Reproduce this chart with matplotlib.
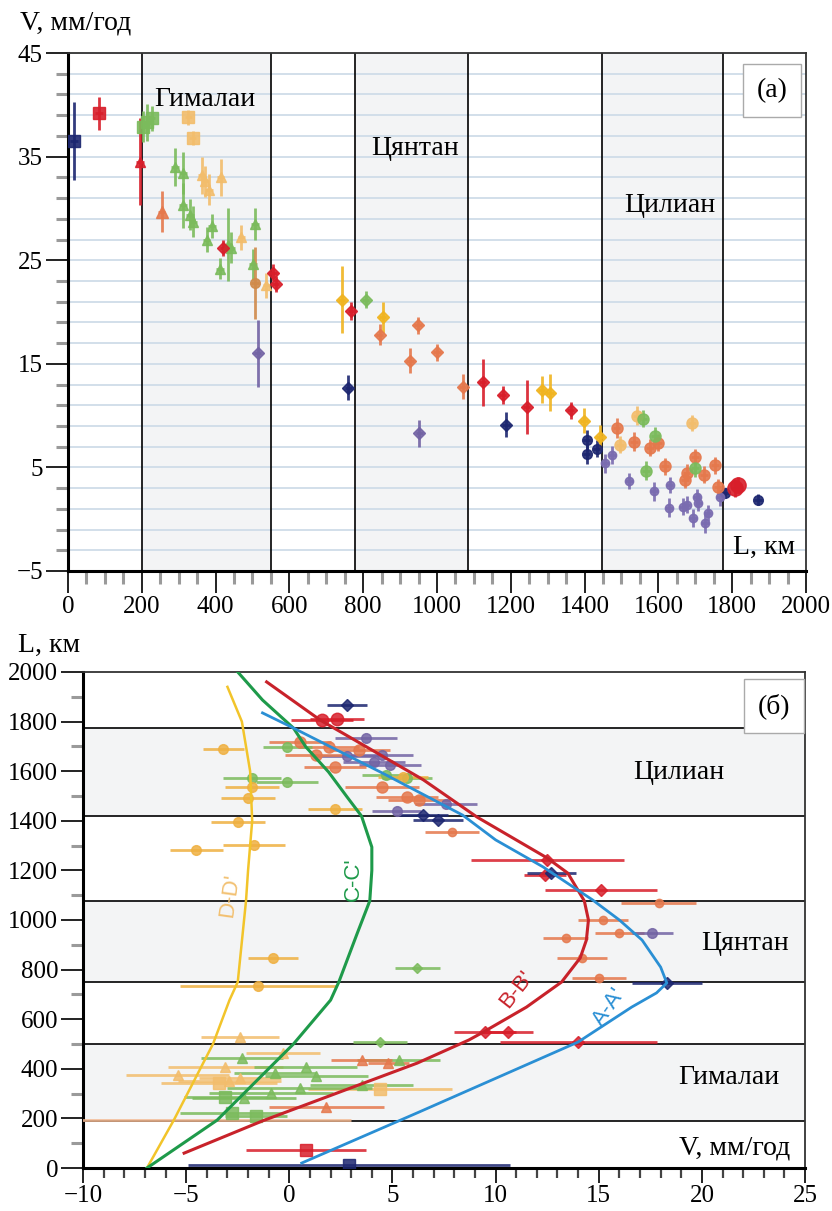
import numpy as np
import matplotlib
matplotlib.use('Agg')
from matplotlib import pyplot as plt
from matplotlib.ticker import FixedLocator, MultipleLocator

plt.rcParams['font.family'] = ['Liberation Serif', 'DejaVu Serif']

NAVY = '#1c2670'
RED = '#d81e2a'
GREEN = '#7bbb5c'
YELLOW = '#f0b420'
LORANGE = '#f2bd6c'
ORRED = '#e5784c'
PURPLE = '#7263a4'

# ---------------- panel (a): V (mm/yr) vs L (km) ----------------
a_navy_sq_L, a_navy_sq_V, a_navy_sq_e = [16], [36.5], [3.8]
a_red_sq_L, a_red_sq_V, a_red_sq_e = [84], [39.2], [1.6]
a_green_sq_L, a_green_sq_V, a_green_sq_e = [204, 215, 227], [37.9, 38.3, 38.7], [1.5, 1.8, 1.2]
a_lor_sq_L, a_lor_sq_V, a_lor_sq_e = [326, 338], [38.8, 36.8], [0.7, 0.7]
a_red_tri_L, a_red_tri_V, a_red_tri_e = [195], [34.5], [4.2]
a_orr_tri_L, a_orr_tri_V, a_orr_tri_e = [254], [29.7], [2.0]
a_green_tri_L = [290, 312, 312, 331, 339, 376, 390, 412, 434, 443, 507, 501]
a_green_tri_V = [34.0, 33.4, 30.3, 29.4, 28.7, 27.0, 28.3, 24.2, 26.5, 26.2, 28.5, 24.6]
a_green_tri_e = [1.8, 2.0, 2.2, 1.5, 1.5, 1.2, 1.2, 1.0, 3.5, 1.5, 1.5, 1.5]
a_lor_tri_L = [362, 371, 382, 414, 470, 538]
a_lor_tri_V = [33.2, 32.6, 31.8, 33.0, 27.2, 22.6]
a_lor_tri_e = [1.8, 1.5, 1.5, 1.8, 1.2, 1.2]
a_brown_L, a_brown_V, a_brown_e = [507], [22.8], [3.5]
a_red_dia_L = [421, 556, 563, 768, 1124, 1178, 1243, 1362]
a_red_dia_V = [26.2, 23.8, 22.7, 20.1, 13.2, 12.0, 10.8, 10.5]
a_red_dia_e = [0.8, 0.8, 0.8, 0.9, 2.3, 0.9, 2.6, 0.8]
a_pur_dia_L, a_pur_dia_V, a_pur_dia_e = [514, 952], [16.0, 8.3], [3.2, 1.3]
a_yel_dia_L = [742, 853, 1284, 1306, 1398, 1442]
a_yel_dia_V = [21.2, 19.5, 12.5, 12.2, 9.5, 7.9]
a_yel_dia_e = [3.2, 1.5, 1.3, 1.8, 1.2, 1.2]
a_green_dia_L, a_green_dia_V, a_green_dia_e = [807], [21.2], [0.8]
a_navy_dia_L, a_navy_dia_V, a_navy_dia_e = [760, 1187], [12.7, 9.1], [1.2, 1.2]
a_orr_dia_L = [845, 927, 949, 1000, 1070]
a_orr_dia_V = [17.8, 15.3, 18.7, 16.1, 12.8]
a_orr_dia_e = [1.0, 1.2, 0.8, 0.8, 1.2]
a_navy_ci_L = [1406, 1406, 1433, 1781, 1870]
a_navy_ci_V = [7.6, 6.3, 6.8, 2.5, 1.9]
a_navy_ci_e = [1.0, 1.0, 0.8, 0.5, 0.5]
a_pur_ci_L = [1455, 1474, 1520, 1588, 1629, 1631, 1667, 1677, 1694, 1704, 1708, 1726, 1734, 1767]
a_pur_ci_V = [5.4, 6.2, 3.7, 2.7, 1.1, 3.3, 1.2, 1.4, 0.1, 2.1, 1.6, -0.4, 0.6, 2.1]
a_pur_ci_e = [0.9, 0.9, 0.8, 0.9, 0.9, 0.8, 0.8, 0.8, 0.9, 0.8, 0.8, 0.9, 0.8, 0.8]
a_orr_ci_L = [1487, 1534, 1577, 1599, 1618, 1672, 1677, 1699, 1724, 1753, 1762]
a_orr_ci_V = [8.8, 7.5, 6.9, 7.4, 5.1, 3.8, 4.5, 6.0, 4.3, 5.2, 3.1]
a_orr_ci_e = [1.0, 0.9, 0.8, 0.8, 0.8, 0.8, 0.8, 0.8, 0.8, 0.8, 0.8]
a_lor_ci_L, a_lor_ci_V, a_lor_ci_e = [1496, 1541, 1691], [7.2, 10.0, 9.3], [0.8, 0.9, 0.8]
a_green_ci_L, a_green_ci_V, a_green_ci_e = [1558, 1566, 1591, 1699], [9.7, 4.7, 8.0, 4.9], [0.8, 0.9, 0.9, 0.8]
a_red_big_L, a_red_big_V, a_red_big_e = [1808, 1816], [3.0, 3.3], [0.9, 0.8]

a_bounds = [200, 549, 778, 1084, 1446, 1776]

# ---------------- panel (б): L (km) vs V (mm/yr) ----------------
b_navy_sq_V, b_navy_sq_L, b_navy_sq_e = [2.9], [12], [7.8]
b_red_sq_V, b_red_sq_L, b_red_sq_e = [0.8], [73], [2.9]
b_lor_tri_V = [-2.4, -0.3, -3.1, -5.4, -2.4, -2.9]
b_lor_tri_L = [528, 463, 408, 375, 363, 350]
b_lor_tri_e = [1.9, 1.8, 2.8, 2.5, 2.0, 2.5]
b_lor_big_V, b_lor_big_L, b_lor_big_e = [-3.4, 4.4], [342, 318], [2.8, 3.5]
b_green_tri_V = [-2.3, 0.8, 1.3, -0.7, 5.3, 0.5, 3.5, -0.9, -2.2]
b_green_tri_L = [443, 408, 371, 383, 435, 322, 335, 302, 282]
b_green_tri_e = [2.0, 2.5, 2.5, 2.0, 2.0, 3.5, 2.5, 3.0, 2.5]
b_green_sq_V, b_green_sq_L, b_green_sq_e = [-3.1, -2.8, -1.6], [286, 222, 210], [2.0, 2.5, 1.5]
b_green_dia_V, b_green_dia_L, b_green_dia_e = [4.4, 6.2], [508, 806], [1.3, 1.1]
b_orr_tri_V, b_orr_tri_L, b_orr_tri_e = [1.8, 3.5, 4.8], [246, 435, 425], [2.8, 1.5, 1.0]
b_red_dia_V = [9.5, 10.6, 14.0, 12.5, 15.1, 12.4]
b_red_dia_L = [548, 548, 508, 1242, 1121, 1181]
b_red_dia_e = [1.5, 1.2, 3.8, 3.7, 2.7, 1.0]
b_navy_V = [12.7, 18.3, 2.8, 6.5, 7.2]
b_navy_L = [1189, 746, 1867, 1423, 1403]
b_navy_e = [1.2, 1.7, 0.95, 1.2, 1.2]
b_orr_V = [17.9, 15.2, 16.0, 13.4, 14.2, 15.0, 7.9]
b_orr_L = [1069, 1000, 949, 928, 847, 766, 1355]
b_orr_e = [1.8, 1.2, 1.2, 1.1, 1.2, 1.3, 1.3]
b_pur_V = [17.6, 3.7, 4.5, 2.8, 4.1, 4.9, 7.6, 5.2]
b_pur_L = [949, 1734, 1665, 1662, 1637, 1625, 1468, 1440]
b_pur_e = [1.0, 1.5, 1.5, 1.5, 1.5, 1.5, 1.5, 1.2]
b_orr_ci_V = [0.5, 1.3, 1.9, 2.2, 3.4, 4.5, 5.7, 6.3]
b_orr_ci_L = [1718, 1665, 1698, 1617, 1686, 1536, 1496, 1484]
b_orr_ci_e = [1.5, 1.5, 1.5, 1.5, 1.5, 1.8, 1.5, 1.5]
b_red_ci_V, b_red_ci_L, b_red_ci_e = [1.6, 2.3], [1806, 1810], [1.5, 1.3]
b_green_ci_V = [-0.1, -1.8, -0.1, 4.7, 5.7]
b_green_ci_L = [1698, 1573, 1556, 1585, 1572]
b_green_ci_e = [1.2, 1.4, 1.5, 1.2, 1.2]
b_yel_ci_V = [-3.2, -1.8, -2.0, 2.2, -2.5, -1.7, -4.5, -0.8, -1.5, 5.5]
b_yel_ci_L = [1690, 1537, 1492, 1448, 1395, 1302, 1282, 847, 734, 1577]
b_yel_ci_e = [1.0, 1.3, 1.3, 1.3, 1.3, 1.5, 1.3, 1.2, 3.8, 1.2]
b_line_V, b_line_L, b_line_e = [-3.6], [195], [6.6]

# model profiles
curve_A_L = [20, 226, 508, 649, 706, 746, 810, 919, 1000, 1081, 1214, 1323, 1423, 1593, 1774, 1835]
curve_A_V = [0.6, 6.3, 14.0, 16.6, 17.8, 18.3, 18.0, 17.1, 16.0, 14.7, 12.3, 10.0, 8.4, 4.5, 0.2, -1.3]
curve_B_L = [60, 190, 423, 516, 548, 649, 750, 847, 919, 1000, 1077, 1189, 1250, 1415, 1565, 1806, 1960]
curve_B_V = [-5.1, -1.3, 6.2, 8.7, 9.4, 11.5, 13.2, 14.1, 14.4, 14.5, 14.3, 13.5, 12.5, 9.1, 6.5, 1.5, -1.1]
curve_C_L = [0, 193, 500, 677, 750, 948, 1077, 1200, 1294, 1419, 1496, 1597, 1698, 1774, 1887, 2000]
curve_C_V = [-6.9, -3.5, 0.2, 2.0, 2.4, 3.3, 3.9, 4.0, 4.0, 3.5, 2.8, 1.9, 0.8, 0.2, -1.3, -2.5]
curve_D_L = [0, 193, 500, 677, 750, 1077, 1200, 1400, 1600, 1800, 1940]
curve_D_V = [-6.9, -5.6, -3.7, -2.9, -2.5, -2.1, -2.0, -1.8, -1.9, -2.3, -3.0]

b_bounds = [190, 500, 750, 1077, 1419, 1774]

fig = plt.figure(figsize=(8.32, 12.11), dpi=100)
ax1 = fig.add_axes([0.0817, 0.5285, 0.887, 0.4277])
ax2 = fig.add_axes([0.0998, 0.0355, 0.8678, 0.4096])

BAND = '#f3f4f5'
TXT = 20
SANS = ['Liberation Sans', 'DejaVu Sans']


def style_axes(ax):
    for s in ['left', 'bottom']:
        ax.spines[s].set_linewidth(2.2)
        ax.spines[s].set_color('black')
    for s in ['top', 'right']:
        ax.spines[s].set_linewidth(1.3)
        ax.spines[s].set_color('#333333')
    ax.tick_params(which='major', length=16, width=1.4, color='#222222',
                   labelsize=18, pad=2, direction='out')
    ax.tick_params(which='minor', length=9, width=2.2, color='#9a9a9a', direction='out')
    ax.tick_params(top=False, right=False)


# ---- panel (a) ----
ax1.set_xlim(0, 2000)
ax1.set_ylim(-5, 45)
for i in [0, 2, 4]:
    ax1.axvspan(a_bounds[i], a_bounds[i + 1], color=BAND, zorder=0, lw=0)
grid_y = np.arange(-5, 46, 2)
for g in grid_y:
    ax1.axhline(g, color='#cfdce8', lw=1.3, zorder=0.5)
for b in a_bounds:
    ax1.axvline(b, color='black', lw=1.2, zorder=1)

top_groups = [
    (a_navy_sq_L, a_navy_sq_V, a_navy_sq_e, NAVY, 's', 8),
    (a_red_sq_L, a_red_sq_V, a_red_sq_e, RED, 's', 8),
    (a_green_sq_L, a_green_sq_V, a_green_sq_e, GREEN, 's', 8),
    (a_lor_sq_L, a_lor_sq_V, a_lor_sq_e, LORANGE, 's', 8),
    (a_red_tri_L, a_red_tri_V, a_red_tri_e, RED, '^', 7),
    (a_orr_tri_L, a_orr_tri_V, a_orr_tri_e, ORRED, '^', 8),
    (a_green_tri_L, a_green_tri_V, a_green_tri_e, GREEN, '^', 7),
    (a_lor_tri_L, a_lor_tri_V, a_lor_tri_e, LORANGE, '^', 7),
    (a_brown_L, a_brown_V, a_brown_e, '#d08a4a', 'o', 7),
    (a_red_dia_L, a_red_dia_V, a_red_dia_e, RED, 'D', 6),
    (a_pur_dia_L, a_pur_dia_V, a_pur_dia_e, PURPLE, 'D', 6),
    (a_yel_dia_L, a_yel_dia_V, a_yel_dia_e, YELLOW, 'D', 6),
    (a_green_dia_L, a_green_dia_V, a_green_dia_e, GREEN, 'D', 6),
    (a_navy_dia_L, a_navy_dia_V, a_navy_dia_e, NAVY, 'D', 6),
    (a_orr_dia_L, a_orr_dia_V, a_orr_dia_e, ORRED, 'D', 6),
    (a_navy_ci_L, a_navy_ci_V, a_navy_ci_e, NAVY, 'o', 7),
    (a_pur_ci_L, a_pur_ci_V, a_pur_ci_e, '#7a6cb0', 'o', 6),
    (a_orr_ci_L, a_orr_ci_V, a_orr_ci_e, ORRED, 'o', 8),
    (a_lor_ci_L, a_lor_ci_V, a_lor_ci_e, LORANGE, 'o', 8),
    (a_green_ci_L, a_green_ci_V, a_green_ci_e, GREEN, 'o', 8),
    (a_red_big_L, a_red_big_V, a_red_big_e, RED, 'o', 11),
]
for L, V, e, c, m, ms in top_groups:
    ax1.errorbar(L, V, yerr=e, xerr=10, fmt=m, color=c, ms=ms, mec=c,
                 ecolor=c, elinewidth=2.0, capsize=0, alpha=0.9, zorder=3)

ax1.set_xticks(np.arange(0, 2001, 200))
ax1.xaxis.set_minor_locator(MultipleLocator(50))
ax1.set_yticks([-5, 5, 15, 25, 35, 45])
ax1.set_yticklabels(['\u22125', '5', '15', '25', '35', '45'])
ax1.yaxis.set_minor_locator(FixedLocator([g for g in grid_y if (g + 5) % 10 != 0]))
style_axes(ax1)

ax1.text(371, 40.5, 'Гималаи', fontsize=TXT, ha='center', va='center')
ax1.text(940, 35.8, 'Цянтан', fontsize=TXT, ha='center', va='center')
ax1.text(1631, 30.3, 'Цилиан', fontsize=TXT, ha='center', va='center')
ax1.text(0.954, 0.928, '(a)', transform=ax1.transAxes, fontsize=TXT, ha='center', va='center',
         bbox=dict(boxstyle='square,pad=0.5', fc='white', ec='#aaaaaa', lw=1.0), zorder=5)
ax1.text(0.985, 0.045, 'L, км', transform=ax1.transAxes, fontsize=TXT, ha='right', va='center')
fig.text(0.024, 0.981, 'V, мм/год', fontsize=TXT, ha='left', va='center')

# ---- panel (б) ----
ax2.set_xlim(-10, 25)
ax2.set_ylim(0, 2000)
for i in [0, 2, 4]:
    ax2.axhspan(b_bounds[i], b_bounds[i + 1], color=BAND, zorder=0, lw=0)
for b in b_bounds:
    ax2.axhline(b, color='black', lw=1.2, zorder=1)

bot_groups = [
    (b_line_V, b_line_L, b_line_e, '#f4b890', 'o', 1),
    (b_navy_sq_V, b_navy_sq_L, b_navy_sq_e, NAVY, 's', 8),
    (b_red_sq_V, b_red_sq_L, b_red_sq_e, RED, 's', 8),
    (b_lor_tri_V, b_lor_tri_L, b_lor_tri_e, LORANGE, '^', 7),
    (b_lor_big_V, b_lor_big_L, b_lor_big_e, LORANGE, 's', 9),
    (b_green_tri_V, b_green_tri_L, b_green_tri_e, GREEN, '^', 7),
    (b_green_sq_V, b_green_sq_L, b_green_sq_e, GREEN, 's', 9),
    (b_green_dia_V, b_green_dia_L, b_green_dia_e, GREEN, 'D', 5),
    (b_orr_tri_V, b_orr_tri_L, b_orr_tri_e, ORRED, '^', 7),
    (b_red_dia_V, b_red_dia_L, b_red_dia_e, RED, 'D', 6),
    (b_navy_V, b_navy_L, b_navy_e, NAVY, 'D', 6),
    (b_orr_V, b_orr_L, b_orr_e, ORRED, 'o', 6),
    (b_pur_V, b_pur_L, b_pur_e, PURPLE, 'o', 7),
    (b_orr_ci_V, b_orr_ci_L, b_orr_ci_e, ORRED, 'o', 8),
    (b_red_ci_V, b_red_ci_L, b_red_ci_e, RED, 'o', 9),
    (b_green_ci_V, b_green_ci_L, b_green_ci_e, GREEN, 'o', 7),
    (b_yel_ci_V, b_yel_ci_L, b_yel_ci_e, '#efb040', 'o', 7),
]
for V, L, e, c, m, ms in bot_groups:
    ax2.errorbar(V, L, xerr=e, fmt=m, color=c, ms=ms, mec=c,
                 ecolor=c, elinewidth=2.0, capsize=0, alpha=0.85, zorder=3)

ax2.plot(curve_D_V, curve_D_L, color='#f2c42a', lw=1.8, zorder=4)
ax2.plot(curve_C_V, curve_C_L, color='#1e9a4a', lw=2.2, zorder=4)
ax2.plot(curve_B_V, curve_B_L, color='#c8222a', lw=2.2, zorder=4)
ax2.plot(curve_A_V, curve_A_L, color='#2a8fd4', lw=2.0, zorder=4)

ax2.text(-2.9, 1100, "D-D'", color='#f2c070', fontsize=16, family=SANS,
         rotation=82, ha='center', va='center')
ax2.text(3.1, 1165, "C-C'", color='#1e9a4a', fontsize=16, family=SANS,
         rotation=90, ha='center', va='center')
ax2.text(11.0, 720, "B-B'", color='#c8222a', fontsize=16, family=SANS,
         rotation=52, ha='center', va='center')
ax2.text(15.5, 650, "A-A'", color='#2a8fd4', fontsize=16, family=SANS,
         rotation=55, ha='center', va='center')

ax2.set_xticks(np.arange(-10, 26, 5))
ax2.set_xticklabels(['\u221210', '\u22125', '0', '5', '10', '15', '20', '25'])
ax2.xaxis.set_minor_locator(MultipleLocator(1))
ax2.set_yticks(np.arange(0, 2001, 200))
ax2.yaxis.set_minor_locator(MultipleLocator(100))
style_axes(ax2)
ax2.tick_params(axis='x', which='major', length=11, pad=1)
ax2.tick_params(axis='x', which='minor', length=7, color='#444444', width=1.6)

ax2.text(18.9, 1593, 'Цилиан', fontsize=TXT, ha='center', va='center')
ax2.text(22.1, 907, 'Цянтан', fontsize=TXT, ha='center', va='center')
ax2.text(21.3, 363, 'Гималаи', fontsize=TXT, ha='center', va='center')
ax2.text(0.957, 0.931, '(б)', transform=ax2.transAxes, fontsize=TXT, ha='center', va='center',
         bbox=dict(boxstyle='square,pad=0.5', fc='white', ec='#aaaaaa', lw=1.0), zorder=5)
ax2.text(0.98, 0.04, 'V, мм/год', transform=ax2.transAxes, fontsize=TXT, ha='right', va='center')
fig.text(0.022, 0.467, 'L, км', fontsize=TXT, ha='left', va='center')

fig.savefig('out.png', dpi=100)
